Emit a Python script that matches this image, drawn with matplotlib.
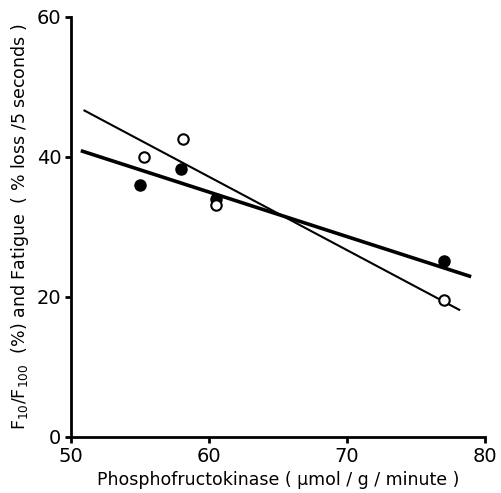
import matplotlib.pyplot as plt
import numpy as np

# PFK activity (umol/g/minute)
pfk_filled = [55.0, 58.0, 60.5, 77.0]
f10_f100 = [36.0, 38.3, 34.0, 25.1]      # filled circles, F10/F100 (%)
pfk_open = [55.3, 58.1, 60.5, 77.0]
fatigue = [40.0, 42.6, 33.1, 19.6]       # open circles, fatigue (% loss/5 s)

# regression lines as drawn (x range and end values)
thick_x = [50.7, 79.0]
thick_y = [40.9, 22.9]
thin_x = [50.9, 78.2]
thin_y = [46.7, 18.1]

fig = plt.figure(figsize=(5.01, 4.93), dpi=100)
ax = fig.add_axes([0.142, 0.1136, 0.826, 0.852])

ax.plot(thick_x, thick_y, color="black", lw=2.6, solid_capstyle="butt", zorder=2)
ax.plot(thin_x, thin_y, color="black", lw=1.5, solid_capstyle="butt", zorder=2)
ax.plot(pfk_filled, f10_f100, "o", color="black", ms=8, zorder=3)
ax.plot(pfk_open, fatigue, "o", mfc="white", mec="black", mew=1.5, ms=7.5, zorder=4)

ax.set_xlim(50, 80)
ax.set_ylim(0, 60)
ax.set_xticks([50, 60, 70, 80])
ax.set_yticks([0, 20, 40, 60])
for s in ["top", "right"]:
    ax.spines[s].set_visible(False)
for s in ["left", "bottom"]:
    ax.spines[s].set_linewidth(2)
ax.tick_params(direction="out", length=4, width=2, labelsize=14, pad=3)

ax.set_xlabel("Phosphofructokinase ( \u03bcmol / g / minute )", fontsize=12.5)
ax.set_ylabel(r"F$_{10}$/F$_{100}$  (%) and Fatigue  ( % loss /5 seconds )", fontsize=12.5)

fig.savefig("out.png", dpi=100)
